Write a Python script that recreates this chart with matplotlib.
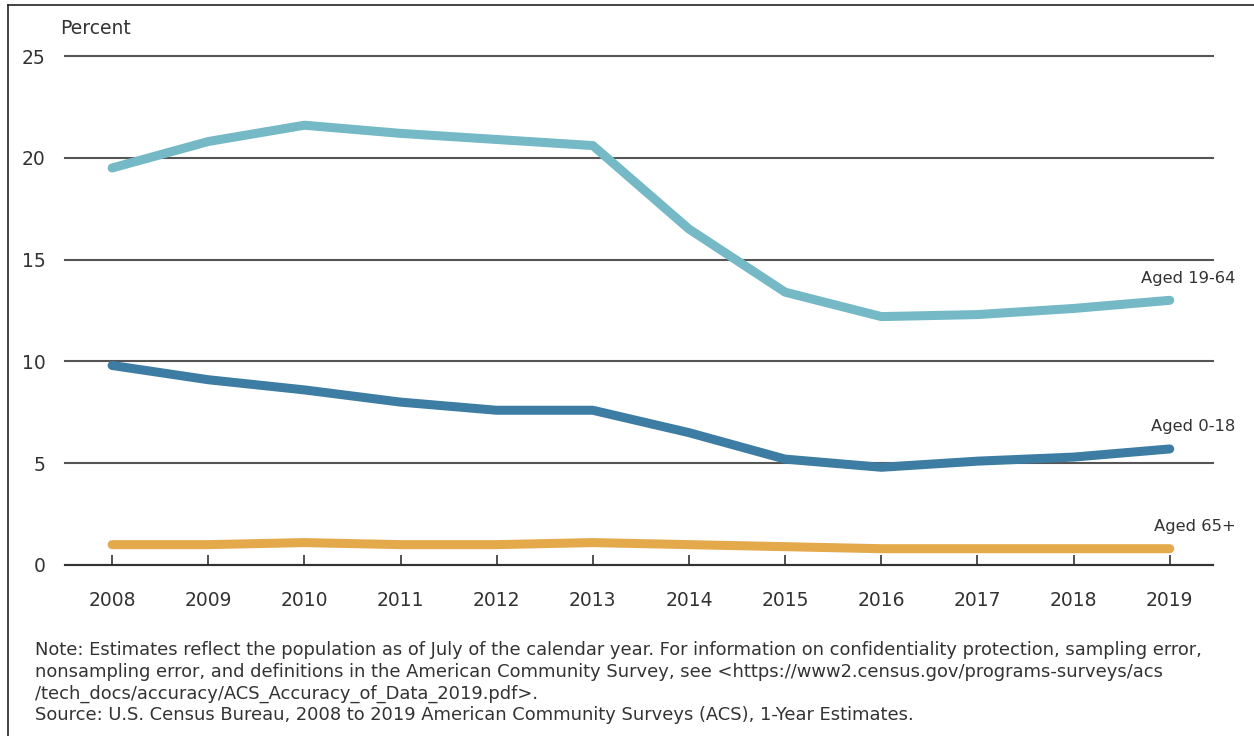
import matplotlib
matplotlib.use("Agg")
import matplotlib.pyplot as plt
from matplotlib.lines import Line2D

plt.rcParams['font.family'] = ['DejaVu Sans']

years = [2008, 2009, 2010, 2011, 2012, 2013, 2014, 2015, 2016, 2017, 2018, 2019]
aged_19_64 = [19.5, 20.8, 21.6, 21.2, 20.9, 20.6, 16.5, 13.4, 12.2, 12.3, 12.6, 13.0]
aged_0_18 = [9.8, 9.1, 8.6, 8.0, 7.6, 7.6, 6.5, 5.2, 4.8, 5.1, 5.3, 5.7]
aged_65_plus = [1.0, 1.0, 1.1, 1.0, 1.0, 1.1, 1.0, 0.9, 0.8, 0.8, 0.8, 0.8]
series_labels = ["Aged 19-64", "Aged 0-18", "Aged 65+"]
y_ticks = [0, 5, 10, 15, 20, 25]

colors = ["#74B9C5", "#3D7DA3", "#E3A94B"]
text_color = "#333333"

fig = plt.figure(figsize=(12.54, 7.36), dpi=100)
ax = fig.add_axes([65 / 1254, 171 / 736, 1148 / 1254, 509 / 736])

for vals, color, label in zip([aged_19_64, aged_0_18, aged_65_plus], colors, series_labels):
    ax.plot(years, vals, color=color, lw=6.5, solid_capstyle='round',
            solid_joinstyle='round', clip_on=False, zorder=3)
    ax.annotate(label, xy=(years[-1], vals[-1]), xytext=(66, 22),
                textcoords='offset pixels', ha='right', va='center',
                fontsize=11.8, color=text_color)

ax.set_xlim(2007.51, 2019.45)
ax.set_ylim(0, 25)
ax.set_yticks(y_ticks)
ax.set_yticklabels([str(v) for v in y_ticks])
ax.set_xticks(years)
ax.set_xticklabels([str(y) for y in years])

ax.grid(axis='y', color='#555555', lw=1.5, zorder=1)
for gl in ax.get_ygridlines():
    gl.set_clip_on(False)
ax.grid(axis='x', visible=False)
for side in ['top', 'right', 'left']:
    ax.spines[side].set_visible(False)
ax.spines['bottom'].set_color('#333333')
ax.spines['bottom'].set_linewidth(1.5)
ax.set_axisbelow(True)

ax.tick_params(axis='y', length=0, pad=14, labelsize=13.5, labelcolor=text_color)
ax.tick_params(axis='x', direction='in', length=7, width=1.2, color='#333333',
               pad=19, labelsize=13.5, labelcolor=text_color)

fig.text(60 / 1254, 1 - 28 / 736, "Percent", ha='left', va='center',
         fontsize=13.5, color=text_color)

note_lines = [
    "Note: Estimates reflect the population as of July of the calendar year. For information on confidentiality protection, sampling error,",
    "nonsampling error, and definitions in the American Community Survey, see <https://www2.census.gov/programs-surveys/acs",
    "/tech_docs/accuracy/ACS_Accuracy_of_Data_2019.pdf>.",
    "Source: U.S. Census Bureau, 2008 to 2019 American Community Surveys (ACS), 1-Year Estimates.",
]
for i, line in enumerate(note_lines):
    fig.text(35 / 1254, 1 - (650 + 21.7 * i) / 736, line, ha='left', va='center',
             fontsize=12.9, color=text_color)

# frame edges along the top and left of the page
fig.add_artist(Line2D([8 / 1254, 1], [1 - 5 / 736, 1 - 5 / 736],
                      transform=fig.transFigure, color='#222222', lw=1.2))
fig.add_artist(Line2D([8 / 1254, 8 / 1254], [0, 1 - 5 / 736],
                      transform=fig.transFigure, color='#222222', lw=1.2))

fig.savefig("out.png", dpi=100)
